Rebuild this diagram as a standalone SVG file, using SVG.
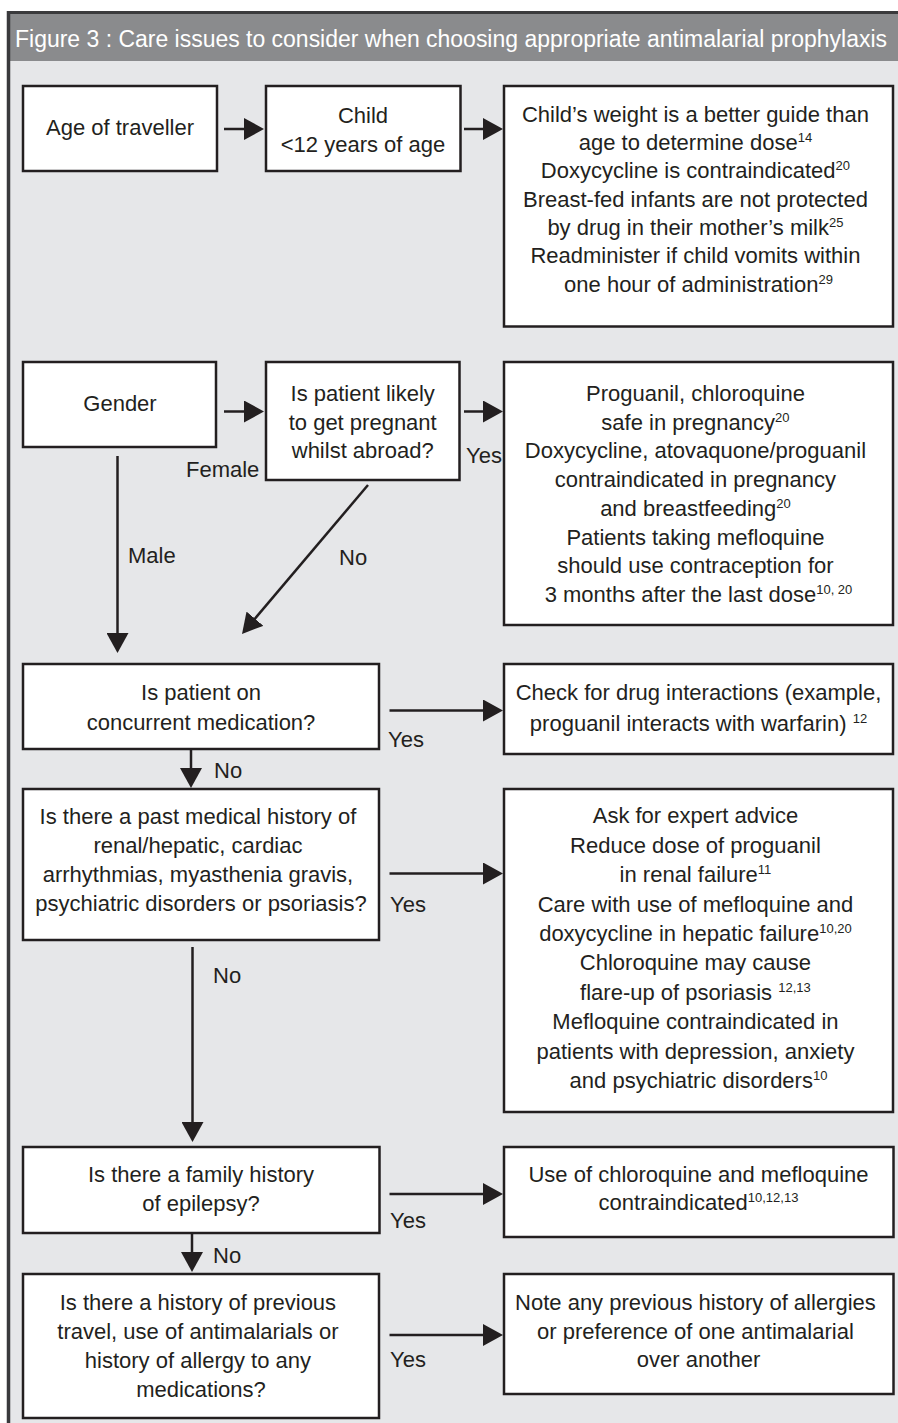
<svg xmlns="http://www.w3.org/2000/svg" width="898" height="1423" viewBox="0 0 898 1423">
<style>
.box{fill:#ffffff;stroke:#231f20;stroke-width:2.5}
.t{font-family:"Liberation Sans",Arial,sans-serif;font-size:22px;fill:#231f20}
.c{text-anchor:middle}
.sup{font-size:13px}
.lbl{font-family:"Liberation Sans",Arial,sans-serif;font-size:22px;fill:#231f20}
.conn{stroke:#231f20;stroke-width:2.5;fill:none;marker-end:url(#ah)}
</style>
<defs>
<marker id="ah" markerUnits="userSpaceOnUse" markerWidth="22" markerHeight="22" refX="16" refY="11" orient="auto">
<path d="M0,0 L20,11 L0,22 Z" fill="#231f20"/>
</marker>
</defs>
<rect x="0" y="0" width="898" height="1423" fill="#ffffff"/>
<g id="frame">
<rect x="10" y="14" width="888" height="47" fill="#8a8b8d"/>
<rect x="10" y="61" width="888" height="1362" fill="#e6e7e9"/>
<line x1="7" y1="12.5" x2="898" y2="12.5" stroke="#3a3a3c" stroke-width="3"/>
<line x1="8.5" y1="11" x2="8.5" y2="1423" stroke="#3a3a3c" stroke-width="3.5"/>
<text x="15" y="47" font-family="Liberation Sans,Arial,sans-serif" font-size="23" fill="#ffffff" textLength="872" lengthAdjust="spacingAndGlyphs">Figure 3 : Care issues to consider when choosing appropriate antimalarial prophylaxis</text>
</g>
<g id="connectors">
<line class="conn" x1="224" y1="129" x2="260" y2="129"/>
<line class="conn" x1="464" y1="129" x2="499" y2="129"/>
<line class="conn" x1="224" y1="411.5" x2="260" y2="411.5"/>
<line class="conn" x1="464" y1="411.5" x2="499" y2="411.5"/>
<line class="conn" x1="117.5" y1="456" x2="117.5" y2="649"/>
<line class="conn" x1="368" y1="485" x2="244.6" y2="630.9"/>
<line class="conn" x1="389.5" y1="710.5" x2="499" y2="710.5"/>
<line class="conn" x1="191" y1="749" x2="191" y2="784"/>
<line class="conn" x1="389.5" y1="873.5" x2="499" y2="873.5"/>
<line class="conn" x1="192.5" y1="947" x2="192.5" y2="1138"/>
<line class="conn" x1="389.5" y1="1194" x2="499" y2="1194"/>
<line class="conn" x1="192" y1="1233" x2="192" y2="1268"/>
<line class="conn" x1="389.5" y1="1335" x2="499" y2="1335"/>
<text class="lbl" x="186" y="477">Female</text>
<text class="lbl" x="466" y="463">Yes</text>
<text class="lbl" x="128" y="563">Male</text>
<text class="lbl" x="339" y="565">No</text>
<text class="lbl" x="388" y="747">Yes</text>
<text class="lbl" x="214" y="778">No</text>
<text class="lbl" x="390" y="912">Yes</text>
<text class="lbl" x="213" y="983">No</text>
<text class="lbl" x="390" y="1228">Yes</text>
<text class="lbl" x="213" y="1263">No</text>
<text class="lbl" x="390" y="1367">Yes</text>
</g>
<g id="n-age">
<rect class="box" x="23" y="86" width="194" height="85"/>
<text class="t c" x="120" y="135">Age of traveller</text>
</g>
<g id="n-child">
<rect class="box" x="266" y="86" width="194.5" height="85"/>
<text class="t c"><tspan x="363" y="123">Child</tspan><tspan x="363" y="152">&lt;12 years of age</tspan></text>
</g>
<g id="n-child-info">
<rect class="box" x="504" y="86" width="389" height="240.5"/>
<text class="t c">
<tspan x="698.5" y="121.7">Child’s weight is a better guide than</tspan>
<tspan x="698.5" y="150">age to determine dose</tspan><tspan class="sup" dy="-8">14</tspan>
<tspan x="698.5" y="178.4">Doxycycline is contraindicated</tspan><tspan class="sup" dy="-8">20</tspan>
<tspan x="698.5" y="206.7">Breast-fed infants are not protected</tspan>
<tspan x="698.5" y="235">by drug in their mother’s milk</tspan><tspan class="sup" dy="-8">25</tspan>
<tspan x="698.5" y="263.4">Readminister if child vomits within</tspan>
<tspan x="698.5" y="291.7">one hour of administration</tspan><tspan class="sup" dy="-8">29</tspan>
</text>
</g>
<g id="n-gender">
<rect class="box" x="23" y="362" width="193" height="85"/>
<text class="t c" x="120" y="411">Gender</text>
</g>
<g id="n-pregnant">
<rect class="box" x="266" y="362" width="193.5" height="118"/>
<text class="t c"><tspan x="362.7" y="401">Is patient likely</tspan><tspan x="362.7" y="429.5">to get pregnant</tspan><tspan x="362.7" y="458.3">whilst abroad?</tspan></text>
</g>
<g id="n-preg-info">
<rect class="box" x="504" y="362" width="389" height="263"/>
<text class="t c">
<tspan x="698.5" y="401">Proguanil, chloroquine</tspan>
<tspan x="698.5" y="429.7">safe in pregnancy</tspan><tspan class="sup" dy="-8">20</tspan>
<tspan x="698.5" y="458.4">Doxycycline, atovaquone/proguanil</tspan>
<tspan x="698.5" y="487.1">contraindicated in pregnancy</tspan>
<tspan x="698.5" y="515.8">and breastfeeding</tspan><tspan class="sup" dy="-8">20</tspan>
<tspan x="698.5" y="544.5">Patients taking mefloquine</tspan>
<tspan x="698.5" y="573.2">should use contraception for</tspan>
<tspan x="698.5" y="601.9">3 months after the last dose</tspan><tspan class="sup" dy="-8">10, 20</tspan>
</text>
</g>
<g id="n-concurrent">
<rect class="box" x="23" y="664" width="356" height="85"/>
<text class="t c"><tspan x="201" y="700">Is patient on</tspan><tspan x="201" y="730">concurrent medication?</tspan></text>
</g>
<g id="n-drug-int">
<rect class="box" x="504" y="664" width="389" height="90"/>
<text class="t c"><tspan x="698.5" y="700">Check for drug interactions (example,</tspan><tspan x="698.5" y="731">proguanil interacts with warfarin) </tspan><tspan class="sup" dy="-8">12</tspan></text>
</g>
<g id="n-past">
<rect class="box" x="23" y="789" width="356" height="151"/>
<text class="t c">
<tspan x="201" y="823.5">Is there a past medical history of</tspan>
<tspan x="201" y="852.5">renal/hepatic, cardiac</tspan>
<tspan x="201" y="881.5">arrhythmias, myasthenia gravis,</tspan>
<tspan x="201" y="910.5">psychiatric disorders or psoriasis?</tspan>
</text>
</g>
<g id="n-past-info">
<rect class="box" x="504" y="789" width="389" height="323"/>
<text class="t c">
<tspan x="698.5" y="823.3">Ask for expert advice</tspan>
<tspan x="698.5" y="852.7">Reduce dose of proguanil</tspan>
<tspan x="698.5" y="882.1">in renal failure</tspan><tspan class="sup" dy="-8">11</tspan>
<tspan x="698.5" y="911.5">Care with use of mefloquine and</tspan>
<tspan x="698.5" y="940.9">doxycycline in hepatic failure</tspan><tspan class="sup" dy="-8">10,20</tspan>
<tspan x="698.5" y="970.3">Chloroquine may cause</tspan>
<tspan x="698.5" y="999.7">flare-up of psoriasis </tspan><tspan class="sup" dy="-8">12,13</tspan>
<tspan x="698.5" y="1029.1">Mefloquine contraindicated in</tspan>
<tspan x="698.5" y="1058.5">patients with depression, anxiety</tspan>
<tspan x="698.5" y="1087.9">and psychiatric disorders</tspan><tspan class="sup" dy="-8">10</tspan>
</text>
</g>
<g id="n-family">
<rect class="box" x="23" y="1147" width="356.5" height="86"/>
<text class="t c"><tspan x="201" y="1181.7">Is there a family history</tspan><tspan x="201" y="1210.7">of epilepsy?</tspan></text>
</g>
<g id="n-family-info">
<rect class="box" x="504" y="1147" width="389.5" height="90"/>
<text class="t c"><tspan x="698.5" y="1181.7">Use of chloroquine and mefloquine</tspan><tspan x="698.5" y="1210">contraindicated</tspan><tspan class="sup" dy="-8">10,12,13</tspan></text>
</g>
<g id="n-history">
<rect class="box" x="23" y="1274" width="356" height="144"/>
<text class="t c">
<tspan x="201" y="1309.5">Is there a history of previous</tspan>
<tspan x="201" y="1338.7">travel, use of antimalarials or</tspan>
<tspan x="201" y="1367.9">history of allergy to any</tspan>
<tspan x="201" y="1397.1">medications?</tspan>
</text>
</g>
<g id="n-history-info">
<rect class="box" x="504" y="1274" width="389.5" height="120"/>
<text class="t c">
<tspan x="698.5" y="1310">Note any previous history of allergies</tspan>
<tspan x="698.5" y="1338.5">or preference of one antimalarial</tspan>
<tspan x="698.5" y="1367">over another</tspan>
</text>
</g>
</svg>
